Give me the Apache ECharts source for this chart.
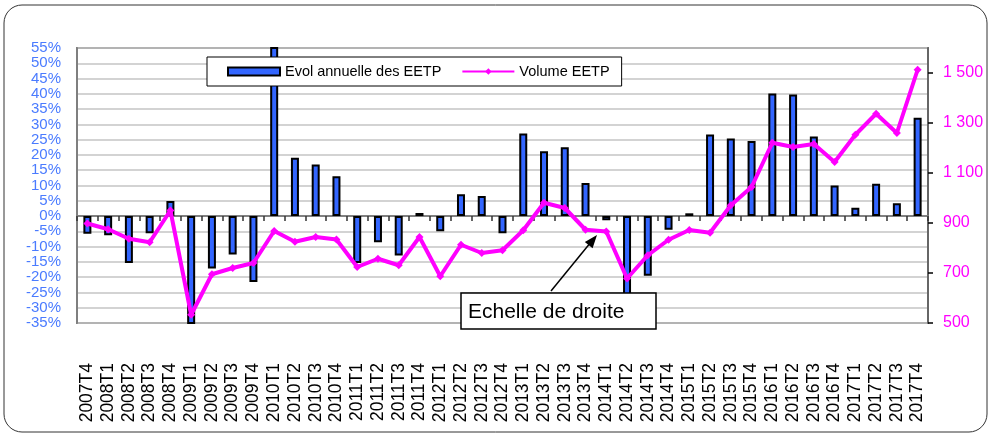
<!DOCTYPE html>
<html>
<head>
<meta charset="utf-8">
<script src="https://cdn.jsdelivr.net/npm/echarts@6/dist/echarts.min.js"></script>
<style>
  html, body { margin: 0; padding: 0; background: #fff; }
  #myChart { width: 990px; height: 435px; }
</style>
</head>
<body>
<div id="myChart"></div>
<script>
var quarters = ['2007T4', '2008T1', '2008T2', '2008T3', '2008T4', '2009T1', '2009T2', '2009T3', '2009T4',
  '2010T1', '2010T2', '2010T3', '2010T4', '2011T1', '2011T2', '2011T3', '2011T4', '2012T1', '2012T2',
  '2012T3', '2012T4', '2013T1', '2013T2', '2013T3', '2013T4', '2014T1', '2014T2', '2014T3', '2014T4',
  '2015T1', '2015T2', '2015T3', '2015T4', '2016T1', '2016T2', '2016T3', '2016T4', '2017T1', '2017T2',
  '2017T3', '2017T4']

// evolution annuelle (%)
var evolEETP = [-5.8, -6.3, -15.4, -5.6, 4.9, -37, -17.2, -12.6, -21.6,
  60, 19.1, 16.9, 13.0, -15.4, -8.6, -12.9, 1.0, -5.0, 7.1,
  6.6, -5.6, 27.0, 21.2, 22.5, 10.8, -1.4, -28, -19.5, -4.5,
  0.9, 26.7, 25.4, 24.6, 40.1, 39.8, 26.0, 10.0, 2.7, 10.6,
  4.2, 32.2]

// volume EETP (echelle de droite)
var volumeEETP = [898, 875, 837, 823, 950, 533, 695, 720, 740,
  868, 825, 844, 834, 724, 757, 731, 844, 687, 813,
  780, 791, 871, 981, 960, 873, 866, 678, 771, 833,
  872, 861, 971, 1044, 1221, 1204, 1216, 1144, 1253, 1337,
  1260, 1513]

var rightTicks = [500, 700, 900, 1100, 1300, 1500]

var font = 'Liberation Sans, Arial, sans-serif'

var chart = echarts.init(document.getElementById('myChart'))

chart.setOption({
  animation: false,
  textStyle: { fontFamily: font },
  grid: {
    left: 77,
    right: 62,
    top: 48,
    bottom: 112,
    show: true,
    borderColor: '#7f7f7f',
    borderWidth: 2
  },
  legend: {
    left: 207,
    top: 57,
    padding: [7, 12, 7, 20],
    itemGap: 20,
    itemWidth: 52,
    itemHeight: 8,
    backgroundColor: '#fff',
    borderColor: '#000',
    borderWidth: 1,
    textStyle: { fontSize: 14.5, color: '#000', fontFamily: font },
    data: [
      { name: 'Evol annuelle des EETP', icon: 'rect', itemStyle: { color: '#3366FF', borderColor: '#000', borderWidth: 2 } },
      { name: 'Volume EETP' }
    ]
  },
  xAxis: [{
    type: 'category',
    data: quarters,
    position: 'bottom',
    axisLine: { onZero: false, show: false },
    axisTick: { show: false },
    axisLabel: {
      rotate: 90,
      margin: 40,
      fontSize: 17.5,
      color: '#000',
      fontFamily: font,
      interval: 0
    }
  }, {
    // axe des abscisses croisant a 0 %
    type: 'category',
    data: quarters,
    position: 'bottom',
    axisLine: { onZero: true, onZeroAxisIndex: 0, lineStyle: { color: '#808080', width: 2 } },
    axisTick: { show: true, length: 5, interval: 0, lineStyle: { color: '#333', width: 1.5 } },
    axisLabel: { show: false }
  }],
  yAxis: [{
    type: 'value',
    position: 'left',
    min: -35,
    max: 55,
    interval: 5,
    axisLine: { show: true, lineStyle: { color: '#7f7f7f', width: 2 } },
    axisTick: { show: false },
    splitLine: { lineStyle: { color: '#c4c4c4', width: 1.5 } },
    axisLabel: {
      formatter: '{value}%',
      fontSize: 15,
      margin: 16,
      color: '#4a7bff',
      fontFamily: font,
      showMinLabel: true,
      showMaxLabel: true,
      hideOverlap: false
    }
  }, {
    type: 'value',
    position: 'right',
    min: 500,
    max: 1600,
    axisLine: { show: true, lineStyle: { color: '#666', width: 2 } },
    axisTick: { show: true, length: 5, customValues: rightTicks, lineStyle: { color: '#000', width: 1.5 } },
    splitLine: { show: false },
    axisLabel: {
      customValues: rightTicks,
      fontSize: 16,
      margin: 15,
      color: '#ff00ff',
      fontFamily: font,
      formatter: function (v) {
        return String(v).replace(/\B(?=(\d{3})+(?!\d))/g, ' ')
      }
    }
  }],
  series: [{
    name: 'Evol annuelle des EETP',
    type: 'bar',
    xAxisIndex: 0,
    yAxisIndex: 0,
    barWidth: 8,
    itemStyle: { color: '#3366FF', borderColor: '#000', borderWidth: 2 },
    data: evolEETP,
    z: 2
  }, {
    name: 'Volume EETP',
    type: 'line',
    xAxisIndex: 0,
    yAxisIndex: 1,
    symbol: 'diamond',
    symbolSize: 8,
    itemStyle: { color: '#ff00ff' },
    lineStyle: { color: '#ff00ff', width: 4 },
    data: volumeEETP,
    z: 3
  }],
  graphic: [
    {
      type: 'rect',
      silent: true,
      z: -10,
      shape: { x: 4, y: 5, width: 983, height: 427, r: 18 },
      style: { fill: 'none', stroke: '#333', lineWidth: 1 }
    },
    {
      type: 'line',
      z: 100,
      shape: { x1: 551, y1: 291, x2: 591, y2: 242 },
      style: { stroke: '#000', lineWidth: 1.5 }
    },
    {
      type: 'polygon',
      z: 100,
      shape: { points: [[597, 235], [592.6, 248.2], [584.8, 241.9]] },
      style: { fill: '#000' }
    },
    {
      type: 'rect',
      z: 100,
      shape: { x: 461, y: 293, width: 195, height: 36 },
      style: { fill: '#fff', stroke: '#000', lineWidth: 1.5 }
    },
    {
      type: 'text',
      z: 101,
      style: {
        x: 468,
        y: 312,
        text: 'Echelle de droite',
        font: '21px Liberation Sans, Arial, sans-serif',
        fill: '#000',
        verticalAlign: 'middle'
      }
    }
  ]
})
</script>
</body>
</html>
